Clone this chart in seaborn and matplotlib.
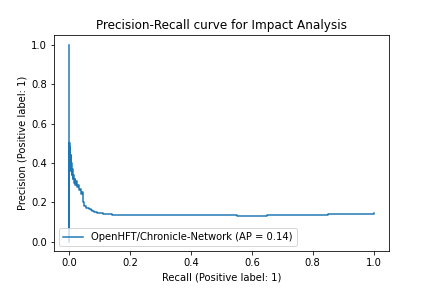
import matplotlib
matplotlib.use("Agg")
import matplotlib.pyplot as plt
import seaborn as sns
import pandas as pd

recall = [0.0, 0.0, 0.0, 0.002, 0.003, 0.004, 0.005, 0.006, 0.007, 0.008, 0.010,
          0.012, 0.014, 0.016, 0.018, 0.020, 0.023, 0.026, 0.029, 0.032, 0.035,
          0.038, 0.041, 0.044, 0.046, 0.048, 0.052, 0.056, 0.060, 0.065, 0.070,
          0.075, 0.080, 0.085, 0.090, 0.095, 0.100, 0.11, 0.12, 0.13, 0.14, 0.15,
          0.17, 0.20, 0.23, 0.26, 0.28, 0.30, 0.35, 0.40, 0.45, 0.48, 0.50, 0.55,
          0.60, 0.65, 0.70, 0.75, 0.80, 0.85, 0.90, 0.95, 1.00]
precision = [1.0, 0.0, 0.50, 0.42, 0.48, 0.38, 0.44, 0.36, 0.40, 0.34, 0.37,
             0.32, 0.34, 0.30, 0.32, 0.29, 0.31, 0.28, 0.29, 0.26, 0.27,
             0.24, 0.25, 0.22, 0.20, 0.18, 0.18, 0.17, 0.17, 0.165, 0.16,
             0.155, 0.152, 0.150, 0.147, 0.145, 0.143, 0.141, 0.139, 0.138, 0.137, 0.136,
             0.134, 0.134, 0.136, 0.136, 0.134, 0.133, 0.133, 0.133, 0.136, 0.137, 0.134, 0.132,
             0.132, 0.133, 0.134, 0.135, 0.137, 0.138, 0.139, 0.141, 0.143]
label = "OpenHFT/Chronicle-Network (AP = 0.14)"

df = pd.DataFrame({"Recall": recall, "Precision": precision})

fig = plt.figure(figsize=(6, 4), dpi=72)
ax = fig.add_axes([0.125, 0.127, 0.775, 0.751])
sns.lineplot(data=df, x="Recall", y="Precision", sort=False, estimator=None,
             ax=ax, color="#1f77b4", linewidth=1.5, drawstyle="steps-post",
             label=label)
ax.set_xlabel("Recall (Positive label: 1)")
ax.set_ylabel("Precision (Positive label: 1)")
ax.set_title("Precision-Recall curve for Impact Analysis")
ax.legend(loc="lower left")
fig.savefig("out.png", dpi=72)
